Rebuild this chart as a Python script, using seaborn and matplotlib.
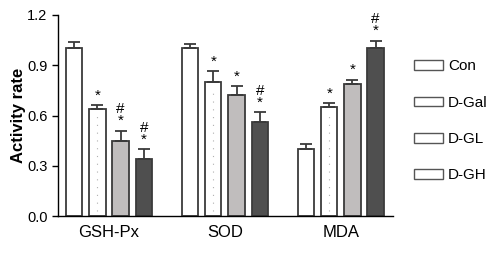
import pandas as pd
import numpy as np
import matplotlib.pyplot as plt
import seaborn as sns
from matplotlib.patches import Patch

markers = ['GSH-Px', 'SOD', 'MDA']
groups = ['Con', 'D-Gal', 'D-GL', 'D-GH']
means = {
    'Con':   [1.00, 1.00, 0.40],
    'D-Gal': [0.64, 0.80, 0.65],
    'D-GL':  [0.45, 0.72, 0.79],
    'D-GH':  [0.34, 0.56, 1.00],
}
errs = {
    'Con':   [0.04, 0.025, 0.032],
    'D-Gal': [0.02, 0.062, 0.024],
    'D-GL':  [0.06, 0.056, 0.024],
    'D-GH':  [0.06, 0.058, 0.045],
}
# significance marks above each bar
marks = {
    'Con':   ['', '', ''],
    'D-Gal': ['*', '*', '*'],
    'D-GL':  ['#\n*', '*', '*'],
    'D-GH':  ['#\n*', '#\n*', '#\n*'],
}
colors = ['white', 'white', '#c0bcbc', '#4f4f4f']

rows = []
for g in groups:
    for i, m in enumerate(markers):
        rows.append({'marker': m, 'group': g, 'value': means[g][i]})
df = pd.DataFrame(rows)

plt.rcParams['font.family'] = ['Liberation Sans', 'DejaVu Sans']
fig = plt.figure(figsize=(5, 2.57), dpi=100)
ax = fig.add_axes([0.116, 0.158, 0.67, 0.785])

sns.barplot(data=df, x='marker', y='value', hue='group', order=markers,
            hue_order=groups, palette=colors, width=0.8, gap=0.3,
            edgecolor='#3a3a3a', linewidth=1.3, errorbar=None, legend=False, ax=ax)

for g, cont in zip(groups, ax.containers):
    for i, p in enumerate(cont.patches):
        x = p.get_x() + p.get_width() / 2
        y = p.get_height()
        e = errs[g][i]
        ax.errorbar(x, y, yerr=[[0], [e]], fmt='none', ecolor='#3a3a3a',
                    elinewidth=1.3, capsize=4, capthick=1.3)
        if marks[g][i]:
            ax.text(x, y + e + 0.015, marks[g][i], ha='center', va='bottom',
                    fontsize=11, linespacing=0.8)
        if g == 'D-Gal':
            ax.plot([x, x], [0.03, y - 0.03], color='#b0b0b0', lw=0.8,
                    ls=(0, (1, 6)))

ax.set_ylim(0, 1.2)
ax.set_yticks([0.0, 0.3, 0.6, 0.9, 1.2])
ax.set_yticklabels(['0.0', '0.3', '0.6', '0.9', '1.2'], fontsize=10.5)
ax.set_xlim(-0.44, 2.45)
ax.set_xlabel('')
ax.set_ylabel('Activity rate', fontsize=12, fontweight='bold', labelpad=1)
ax.tick_params(axis='x', length=0, pad=6, labelsize=12)
ax.tick_params(axis='y', length=4, width=1)
for s in ['top', 'right']:
    ax.spines[s].set_visible(False)
for s in ['left', 'bottom']:
    ax.spines[s].set_linewidth(1)

handles = [Patch(facecolor='white', edgecolor='#555555', lw=1) for g in groups]
fig.legend(handles, groups, loc='upper left', bbox_to_anchor=(0.80, 0.822),
           frameon=False, fontsize=11, handlelength=1.9, handleheight=0.6,
           labelspacing=1.46, handletextpad=0.33)

fig.savefig('out.png', dpi=100)
